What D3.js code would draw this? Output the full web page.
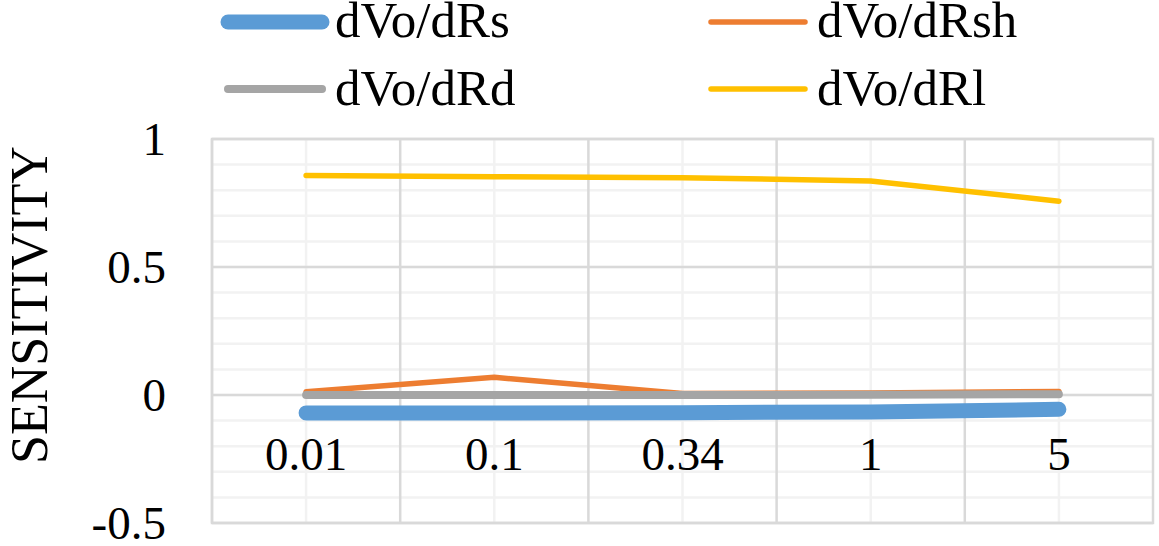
<!DOCTYPE html>
<html>
<head>
<meta charset="utf-8">
<script src="https://cdn.jsdelivr.net/npm/d3@7"></script>
<style>
  body { margin: 0; background: #fff; }
  svg { display: block; }
</style>
</head>
<body>
<svg class="sensChart" width="1159" height="546"></svg>
<script>
// categories on the x axis (load values)
const categories = ['0.01', '0.1', '0.34', '1', '5'];

// sensitivity values
const dRs  = [-0.070, -0.070, -0.069, -0.066, -0.056];
const dRsh = [0.013, 0.069, 0.006, 0.008, 0.014];
const dRd  = [0.000, 0.000, 0.000, 0.001, 0.003];
const dRl  = [0.857, 0.853, 0.849, 0.836, 0.757];

const seriesNames = ['dVo/dRs', 'dVo/dRsh', 'dVo/dRd', 'dVo/dRl'];
const yTicks = [-0.5, 0, 0.5, 1];

function drawSensChart(){
  const margin = {top: 139, right: 6, bottom: 23, left: 212},
        fullW = 1159, fullH = 546,
        width = fullW - margin.left - margin.right,
        height = fullH - margin.top - margin.bottom;

  const svg = d3.select('svg.sensChart');
  const g = svg.append('g')
               .attr('transform', `translate(${margin.left}, ${margin.top})`);

  const x = d3.scaleBand()
              .domain(categories)
              .range([0, width]);

  const y = d3.scaleLinear()
              .domain([-0.5, 1])
              .range([height, 0]);

  const font = "'Liberation Serif', 'Times New Roman', serif";

  // minor grid (every 0.1 and at category centres)
  const minorY = d3.range(-5, 11).map(d => d / 10);
  g.append('g')
    .selectAll('line')
    .data(minorY)
    .enter().append('line')
      .attr('x1', 0).attr('x2', width)
      .attr('y1', d => y(d)).attr('y2', d => y(d))
      .style('stroke', '#F2F2F2').style('stroke-width', 2.5);

  g.append('g')
    .selectAll('line')
    .data(categories)
    .enter().append('line')
      .attr('x1', d => x(d) + x.bandwidth() / 2).attr('x2', d => x(d) + x.bandwidth() / 2)
      .attr('y1', 0).attr('y2', height)
      .style('stroke', '#F2F2F2').style('stroke-width', 2.5);

  // major grid
  g.append('g')
    .selectAll('line')
    .data(yTicks)
    .enter().append('line')
      .attr('x1', 0).attr('x2', width)
      .attr('y1', d => y(d)).attr('y2', d => y(d))
      .style('stroke', '#D9D9D9').style('stroke-width', 2.5);

  g.append('g')
    .selectAll('line')
    .data(categories)
    .enter().append('line')
      .attr('x1', d => x(d)).attr('x2', d => x(d))
      .attr('y1', 0).attr('y2', height)
      .style('stroke', '#D9D9D9').style('stroke-width', 2.5);

  g.append('rect')
    .attr('width', width).attr('height', height)
    .style('fill', 'none')
    .style('stroke', '#D9D9D9').style('stroke-width', 2.5);

  // y axis labels
  const yAxis = g.append('g')
    .call(d3.axisLeft(y).tickValues(yTicks).tickFormat(d => String(d)).tickSize(0).tickPadding(46));
  yAxis.select('.domain').remove();
  yAxis.selectAll('text')
    .style('font-family', font)
    .style('font-size', '47px')
    .style('fill', 'black');

  // x axis labels sit below the zero line
  const xAxis = g.append('g')
    .attr('transform', `translate(0, ${y(0)})`)
    .call(d3.axisBottom(x).tickSize(0).tickPadding(42));
  xAxis.select('.domain').remove();
  xAxis.selectAll('text')
    .style('font-family', font)
    .style('font-size', '47px')
    .style('fill', 'black');

  // y axis title
  svg.append('text')
    .text('SENSITIVITY')
    .attr('transform', 'translate(47, 305) rotate(-90)')
    .style('text-anchor', 'middle')
    .style('font-family', font)
    .style('font-size', '52px')
    .style('fill', 'black');

  const seriesData = [dRs, dRsh, dRd, dRl];
  const colors = ['#5B9BD5', '#ED7D31', '#A5A5A5', '#FFC000'];
  const widths = [15, 5.5, 8, 5.5];

  const line = d3.line()
                 .x((d, i) => x(categories[i]) + x.bandwidth() / 2)
                 .y(d => y(d));

  seriesData.forEach((vals, k) => {
    g.append('path')
      .datum(vals)
      .attr('d', line)
      .style('fill', 'none')
      .style('stroke', colors[k])
      .style('stroke-width', widths[k])
      .style('stroke-linecap', 'round')
      .style('stroke-linejoin', 'round');
  });

  // legend, two columns by two rows
  const legendPos = [
    {lx: 228, ly: 22, tx: 335, ty: 37},
    {lx: 711, ly: 22, tx: 817, ty: 37},
    {lx: 228, ly: 89, tx: 335, ty: 105},
    {lx: 711, ly: 89, tx: 817, ty: 105}
  ];

  seriesNames.forEach((name, k) => {
    const p = legendPos[k];
    svg.append('line')
      .attr('x1', p.lx).attr('x2', p.lx + 94)
      .attr('y1', p.ly).attr('y2', p.ly)
      .style('stroke', colors[k])
      .style('stroke-width', widths[k])
      .style('stroke-linecap', 'round');
    svg.append('text')
      .text(name)
      .attr('x', p.tx).attr('y', p.ty)
      .style('font-family', font)
      .style('font-size', '51px')
      .style('fill', 'black');
  });
}

drawSensChart();
</script>
</body>
</html>
